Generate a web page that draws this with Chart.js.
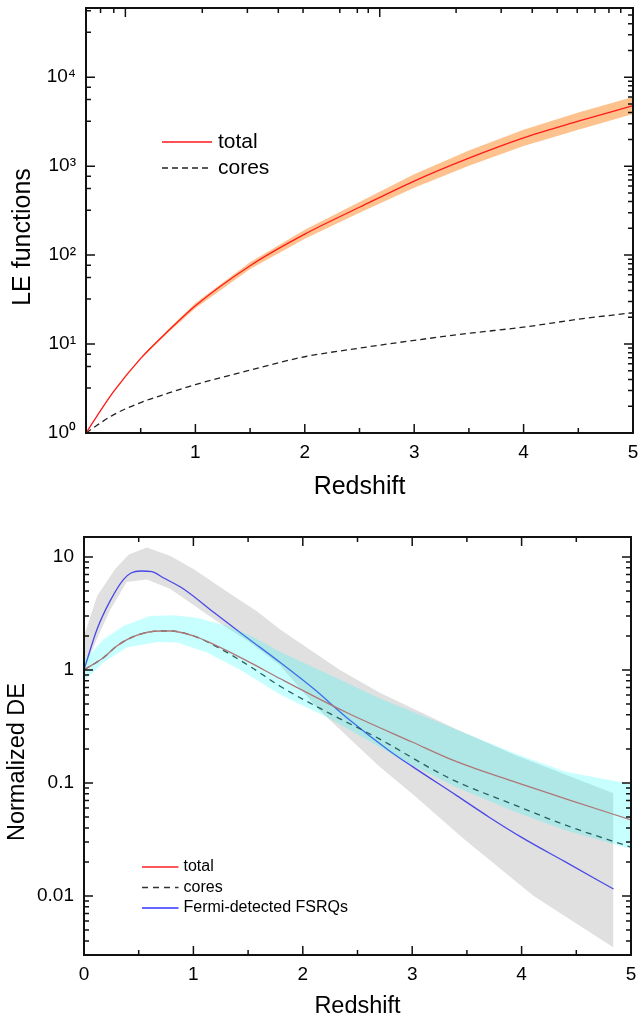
<!DOCTYPE html>
<html>
<head>
<meta charset="utf-8">
<script src="https://cdn.jsdelivr.net/npm/chart.js@4.4.1/dist/chart.umd.min.js"></script>
<style>
  html, body { margin: 0; padding: 0; background: #fff; }
  #topBox { position: absolute; left: 0; top: 0; width: 638px; height: 500px; }
  #botBox { position: absolute; left: 0; top: 500px; width: 638px; height: 532px; }
</style>
</head>
<body>
<div id="topBox"><canvas id="leCanvas"></canvas></div>
<div id="botBox"><canvas id="deCanvas"></canvas></div>
<script>
// ---- top panel : LE functions ----
const zLE = [0, 0.1, 0.25, 0.5, 0.75, 1, 1.5, 2, 2.5, 3, 3.5, 4, 4.5, 5];
const leTotal = [1, 1.55, 2.9, 6.9, 14, 27, 76, 172, 345, 680, 1230, 2080, 3200, 4800];
const leTotalHi = [1, 1.56, 2.95, 7.05, 14.6, 28.9, 83, 193, 396, 810, 1500, 2560, 4000, 6000];
const leTotalLo = [1, 1.54, 2.85, 6.75, 13.4, 25.2, 70, 153, 300, 570, 1010, 1690, 2560, 3850];
const leCores = [1, 1.22, 1.6, 2.2, 2.8, 3.5, 5.1, 7.2, 9.0, 11.0, 13.2, 15.5, 19, 22.5];
const leTickVals = [1, 10, 100, 1000, 10000];
const leTickLabels = ["10\u2070", "10\u00b9", "10\u00b2", "10\u00b3", "10\u2074"];
// irregular ticks along the upper edge of the top panel
const leTopMajor = [0.36, 2.685];
const leTopMinor = [0.133, 0.254, 1.063, 1.475, 1.758, 1.984, 2.32, 2.48, 2.58,
                    3.383, 3.795, 4.079, 4.307, 4.49, 4.652, 4.78, 4.888];

// ---- bottom panel : normalized DE ----
const zTotal = [0, 0.18, 0.3, 0.48, 0.7, 0.79, 1.0, 1.215, 1.52, 1.8, 2.4, 3.0, 3.4, 3.95, 4.41, 5.0];
const deTotal = [1, 1.29, 1.63, 2.02, 2.21, 2.21, 2.0, 1.63, 1.16, 0.83, 0.42, 0.23, 0.155, 0.101, 0.072, 0.047];
const zCores = [0, 0.18, 0.3, 0.48, 0.7, 0.79, 1.0, 1.215, 1.52, 1.8, 2.25, 2.7, 3.34, 3.95, 4.41, 5.0];
const deCores = [1, 1.29, 1.63, 2.02, 2.21, 2.21, 2.0, 1.6, 1.07, 0.71, 0.41, 0.245, 0.11, 0.063, 0.042, 0.027];
const zFermi = [0, 0.12, 0.24, 0.36, 0.43, 0.52, 0.62, 0.73, 0.91, 1.2, 1.5, 1.8, 2.1, 2.4, 2.8, 3.0, 3.4, 3.7, 4.0, 4.4, 4.84];
const deFermi = [1, 2.3, 4.1, 6.3, 7.2, 7.5, 7.4, 6.5, 5.2, 3.15, 1.9, 1.15, 0.68, 0.38, 0.19, 0.14, 0.078, 0.05, 0.033, 0.02, 0.0115];
const zFermiHi = [0, 0.12, 0.285, 0.41, 0.575, 0.79, 1.0, 1.34, 1.58, 1.8, 2.34, 2.7, 3.4, 3.95, 4.84];
const deFermiHi = [2.0, 4.5, 7.8, 10.5, 12.1, 10.2, 7.8, 4.7, 3.3, 2.25, 1.0, 0.63, 0.3, 0.175, 0.081];
const zFermiLo = [0, 0.12, 0.24, 0.39, 0.575, 0.79, 1.215, 1.5, 1.79, 2.14, 2.7, 3.0, 3.47, 4.11, 4.84];
const deFermiLo = [1.0, 1.9, 3.4, 6.0, 6.3, 5.2, 2.7, 1.8, 1.1, 0.45, 0.14, 0.08, 0.032, 0.01, 0.0035];
const zTotHi = [0, 0.18, 0.36, 0.6, 0.82, 1.03, 1.31, 1.55, 1.79, 2.2, 2.7, 3.43, 3.95, 4.41, 5.0];
const deTotHi = [1.2, 1.87, 2.45, 3.0, 3.05, 2.9, 2.45, 1.95, 1.45, 0.95, 0.56, 0.29, 0.18, 0.125, 0.098];
const zTotLo = [0, 0.18, 0.39, 0.67, 0.85, 1.12, 1.43, 1.8, 2.25, 2.96, 3.4, 3.95, 4.41, 5.0];
const deTotLo = [0.8, 1.16, 1.58, 1.77, 1.75, 1.43, 1.0, 0.6, 0.37, 0.15, 0.092, 0.055, 0.038, 0.026];
const deTickVals = [0.01, 0.1, 1, 10];
const deTickLabels = ["0.01", "0.1", "1", "10"];

const FONT = "'Liberation Sans', Arial, sans-serif";
Chart.defaults.font.family = FONT;
Chart.defaults.color = "#000";

function pts(xs, ys) {
  return xs.map((x, i) => ({ x: x, y: ys[i] }));
}

function logMinors(scale, mults) {
  const out = [];
  const k0 = Math.floor(Math.log10(scale.min));
  const k1 = Math.ceil(Math.log10(scale.max));
  for (let k = k0; k <= k1; k++) {
    mults.forEach(m => {
      const v = m * Math.pow(10, k);
      if (v >= scale.min && v <= scale.max) out.push(v);
    });
  }
  return out;
}

// frame + inward ticks on all four sides
const frameTicks = {
  id: "frameTicks",
  afterDatasetsDraw(chart, args, o) {
    const { ctx, chartArea: a } = chart;
    const xs = chart.scales.x, ys = chart.scales.y;
    ctx.save();
    ctx.strokeStyle = "#111";
    ctx.lineWidth = 1.5;
    ctx.beginPath();
    const vt = (v, y0, len) => { const p = xs.getPixelForValue(v); ctx.moveTo(p, y0); ctx.lineTo(p, y0 + len); };
    const ht = (v, x0, len) => { const p = ys.getPixelForValue(v); ctx.moveTo(x0, p); ctx.lineTo(x0 + len, p); };
    o.xMajor.forEach(v => vt(v, a.bottom, -9));
    o.xMinor.forEach(v => vt(v, a.bottom, -5));
    o.topMajor.forEach(v => vt(v, a.top, 9));
    o.topMinor.forEach(v => vt(v, a.top, 5));
    o.yMajor.forEach(v => { ht(v, a.left, 9); ht(v, a.right, -9); });
    logMinors(ys, o.leftMults).forEach(v => ht(v, a.left, 5));
    logMinors(ys, o.rightMults).forEach(v => ht(v, a.right, -5));
    ctx.stroke();
    ctx.lineWidth = 2;
    ctx.strokeRect(a.left, a.top, a.right - a.left, a.bottom - a.top);
    ctx.restore();
  }
};

// rotated y title and in-plot legend
const decor = {
  id: "decor",
  afterDraw(chart, args, o) {
    const ctx = chart.ctx;
    ctx.save();
    ctx.font = o.yTitle.font;
    ctx.fillStyle = "#000";
    ctx.textAlign = "center";
    ctx.textBaseline = "middle";
    ctx.translate(o.yTitle.x, o.yTitle.y);
    ctx.rotate(-Math.PI / 2);
    ctx.fillText(o.yTitle.text, 0, 0);
    ctx.restore();

    const lg = o.legend;
    ctx.save();
    ctx.font = lg.font;
    ctx.textAlign = "left";
    ctx.textBaseline = "middle";
    lg.items.forEach((idx, i) => {
      const ds = chart.data.datasets[idx];
      const yy = lg.y + i * lg.rowGap;
      ctx.beginPath();
      ctx.setLineDash(ds.borderDash || []);
      ctx.strokeStyle = lg.colors ? lg.colors[i] : ds.borderColor;
      ctx.lineWidth = ds.borderWidth;
      ctx.moveTo(lg.x, yy);
      ctx.lineTo(lg.x + lg.lineLen, yy);
      ctx.stroke();
      ctx.setLineDash([]);
      ctx.fillStyle = "#000";
      ctx.fillText(ds.label, lg.x + lg.lineLen + lg.gap, yy);
    });
    ctx.restore();
  }
};

function xAxis(height, showZero, titleFont, titlePad) {
  return {
    type: "linear", min: 0, max: 5,
    grid: { display: false, drawTicks: false },
    border: { display: false },
    ticks: {
      stepSize: 1, padding: 8, font: { size: 19 },
      callback: v => (v === 0 && !showZero) ? "" : String(v)
    },
    title: { display: true, text: "Redshift", font: titleFont, padding: titlePad },
    afterFit: s => { s.height = height; s.paddingLeft = 0; s.paddingRight = 0; }
  };
}

function yAxis(min, max, width, vals, labels) {
  return {
    type: "logarithmic", min: min, max: max,
    grid: { display: false, drawTicks: false },
    border: { display: false },
    ticks: {
      padding: 10, autoSkip: false, font: { size: 19 },
      callback: v => { const i = vals.indexOf(v); return i < 0 ? "" : labels[i]; }
    },
    afterBuildTicks: s => { s.ticks = vals.map(v => ({ value: v })); },
    afterFit: s => { s.width = width; s.paddingTop = 0; s.paddingBottom = 0; }
  };
}

const line = (label, data, color, dash, order) => ({
  label: label, data: data, borderColor: color, borderWidth: 1.3,
  borderDash: dash, pointRadius: 0, fill: false, order: order,
  cubicInterpolationMode: "monotone"
});
const band = (data, color, fillTo, order) => ({
  label: "", data: data, borderWidth: 0, borderColor: "rgba(0,0,0,0)",
  backgroundColor: color, pointRadius: 0, tension: 0, order: order,
  fill: fillTo
});

new Chart(document.getElementById("leCanvas"), {
  type: "line",
  data: {
    datasets: [
      line("total", pts(zLE, leTotal), "#ff1a1a", [], 0),
      line("cores", pts(zLE, leCores), "#222", [6, 4], 0),
      band(pts(zLE, leTotalHi), "#fdc28e", "+1", 1),
      band(pts(zLE, leTotalLo), "#fdc28e", false, 1)
    ]
  },
  options: {
    responsive: true, maintainAspectRatio: false, animation: false, devicePixelRatio: 1,
    layout: { padding: { top: 8, right: 5, left: 0, bottom: 0 } },
    scales: {
      x: xAxis(67, false, { size: 25, lineHeight: 1 }, { top: 0, bottom: 0 }),
      y: yAxis(1, 60000, 86, leTickVals, leTickLabels)
    },
    plugins: {
      legend: { display: false },
      tooltip: { enabled: false },
      frameTicks: {
        xMajor: [1, 2, 3, 4, 5], xMinor: [0.5, 1.5, 2.5, 3.5, 4.5],
        topMajor: leTopMajor, topMinor: leTopMinor,
        yMajor: leTickVals, leftMults: [3.2, 5.6, 7.7], rightMults: [2, 3, 4, 5, 6, 7, 8, 9]
      },
      decor: {
        yTitle: { text: "LE functions", x: 23, y: 237, font: "25px " + FONT },
        legend: { items: [0, 1], x: 162, y: 142, rowGap: 26, lineLen: 50, gap: 6, font: "21px " + FONT }
      }
    }
  },
  plugins: [frameTicks, decor]
});

new Chart(document.getElementById("deCanvas"), {
  type: "line",
  data: {
    datasets: [
      band(pts(zTotHi, deTotHi), "rgba(0,255,255,0.22)", "+1", 0),
      band(pts(zTotLo, deTotLo), "rgba(0,255,255,0.22)", false, 0),
      line("total", pts(zTotal, deTotal), "#e05050", [], 1),
      line("cores", pts(zCores, deCores), "#333", [6, 5], 1),
      line("Fermi-detected FSRQs", pts(zFermi, deFermi), "#4848e6", [], 1),
      band(pts(zFermiHi, deFermiHi), "#e0e0e0", "+1", 2),
      band(pts(zFermiLo, deFermiLo), "#e0e0e0", false, 2)
    ]
  },
  options: {
    responsive: true, maintainAspectRatio: false, animation: false, devicePixelRatio: 1,
    layout: { padding: { top: 37, right: 7, left: 0, bottom: 0 } },
    scales: {
      x: xAxis(77, true, { size: 23.5, lineHeight: 1.2 }, { top: 0, bottom: 11 }),
      y: yAxis(0.003, 15, 84, deTickVals, deTickLabels)
    },
    plugins: {
      legend: { display: false },
      tooltip: { enabled: false },
      frameTicks: {
        xMajor: [0, 1, 2, 3, 4, 5], xMinor: [0.5, 1.5, 2.5, 3.5, 4.5],
        topMajor: [1, 2, 3, 4], topMinor: [0.5, 1.5, 2.5, 3.5, 4.5],
        yMajor: deTickVals, leftMults: [2, 3, 4, 5, 6, 7, 8, 9], rightMults: [2, 3, 4, 5, 6, 7, 8, 9]
      },
      decor: {
        yTitle: { text: "Normalized DE", x: 17.5, y: 262, font: "23.5px " + FONT },
        legend: { items: [2, 3, 4], colors: ["#ff2020", "#333", "#3030ff"], x: 142, y: 367, rowGap: 20.5, lineLen: 36.5, gap: 5, font: "16px " + FONT }
      }
    }
  },
  plugins: [frameTicks, decor]
});
</script>
</body>
</html>
